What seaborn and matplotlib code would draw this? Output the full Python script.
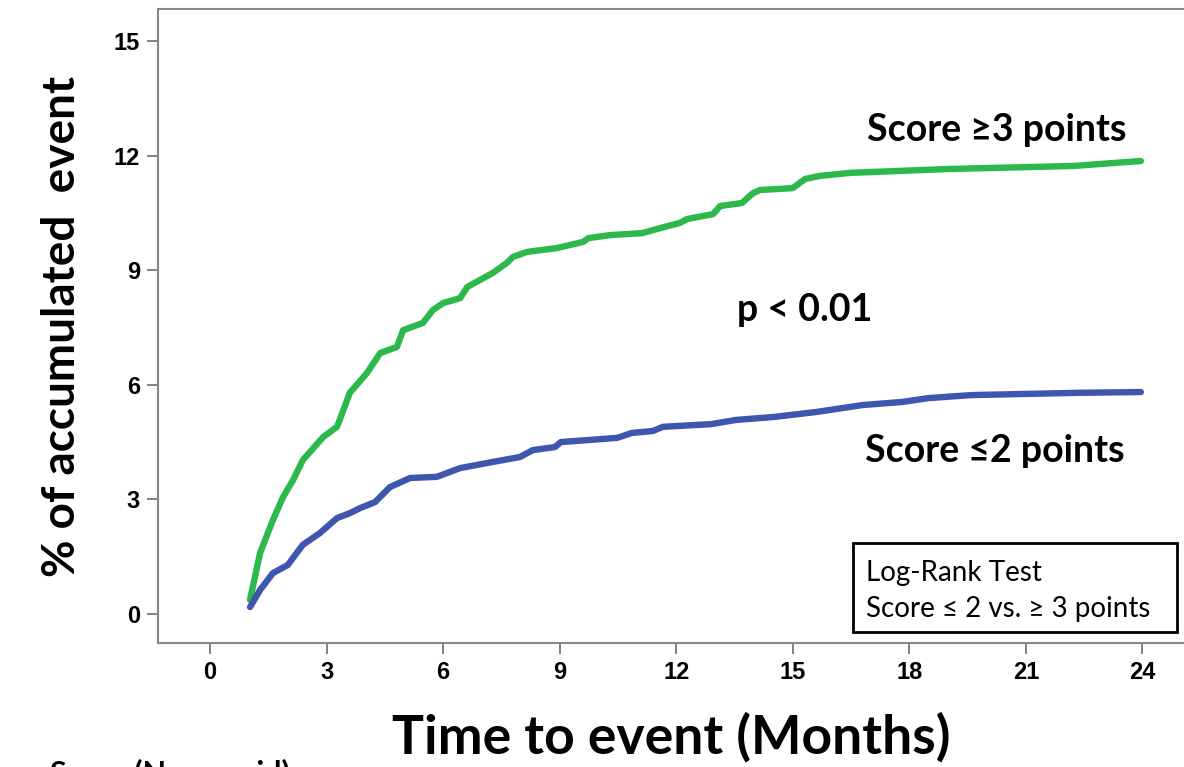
import matplotlib
matplotlib.use("Agg")
import matplotlib.pyplot as plt
import seaborn as sns
import pandas as pd
from matplotlib.patches import Rectangle

# Data (months, % accumulated event)
months_high = [1.03, 1.29, 1.62, 1.88, 2.14, 2.39, 2.91, 3.27, 3.6, 4.04, 4.38, 4.81, 4.97,
               5.48, 5.74, 6.0, 6.44, 6.62, 7.28, 7.64, 7.8, 8.16, 8.93, 9.6, 9.74,
               10.3, 11.12, 11.58, 12.1, 12.28, 12.95, 13.13, 13.69, 13.98, 14.16, 15.0,
               15.32, 15.7, 16.5, 19.0, 22.24, 23.96]
pct_high = [0.37, 1.6, 2.46, 3.06, 3.51, 4.03, 4.63, 4.9, 5.79, 6.31, 6.83, 6.99, 7.43,
            7.62, 7.96, 8.14, 8.27, 8.56, 8.93, 9.19, 9.35, 9.48, 9.58, 9.74, 9.84,
            9.92, 9.97, 10.1, 10.24, 10.34, 10.47, 10.68, 10.76, 11.02, 11.1, 11.15,
            11.39, 11.47, 11.55, 11.65, 11.73, 11.86]
months_low = [1.03, 1.29, 1.62, 2.0, 2.39, 2.83, 3.27, 3.6, 3.86, 4.25, 4.63, 5.15, 5.84,
              6.44, 7.28, 7.98, 8.31, 8.88, 9.03, 10.48, 10.86, 11.4, 11.66, 12.9, 13.54,
              14.54, 15.62, 16.8, 17.81, 18.48, 19.59, 22.34, 23.96]
pct_low = [0.18, 0.63, 1.07, 1.28, 1.81, 2.12, 2.51, 2.64, 2.77, 2.93, 3.32, 3.56, 3.59,
           3.82, 3.98, 4.11, 4.29, 4.37, 4.5, 4.61, 4.74, 4.79, 4.9, 4.97, 5.08,
           5.16, 5.29, 5.47, 5.55, 5.65, 5.73, 5.79, 5.81]
groups = ["Score ≥3 points", "Score ≤2 points"]
x_ticks = [0, 3, 6, 9, 12, 15, 18, 21, 24]
y_ticks = [0, 3, 6, 9, 12, 15]

df = pd.concat([
    pd.DataFrame({"month": months_high, "pct": pct_high, "group": groups[0]}),
    pd.DataFrame({"month": months_low, "pct": pct_low, "group": groups[1]}),
])

sns.set_theme(style="white")
plt.rcParams["font.family"] = ["Liberation Sans", "DejaVu Sans"]
plt.rcParams["text.color"] = "black"
plt.rcParams["axes.labelcolor"] = "black"
plt.rcParams["xtick.color"] = "black"
plt.rcParams["ytick.color"] = "black"

fig = plt.figure(figsize=(11.84, 7.67), dpi=100)
ax = fig.add_axes([0.1334, 0.1617, 0.8666, 0.8266])

palette = {groups[0]: "#2db84b", groups[1]: "#3f56ae"}
sns.lineplot(data=df, x="month", y="pct", hue="group", palette=palette, estimator=None,
             sort=False, linewidth=4.6, legend=False, ax=ax)

ax.set_xlim(-1.34, 25.07)
ax.set_ylim(-0.76, 15.84)
ax.set_xticks(x_ticks)
ax.set_yticks(y_ticks)
ax.set_xticklabels([str(v) for v in x_ticks], fontsize=17, fontweight="bold")
ax.set_yticklabels([str(v) for v in y_ticks], fontsize=17, fontweight="bold")
ax.tick_params(axis="both", direction="out", length=8, width=1.3, color="#777777",
               bottom=True, left=True, pad=5)

for side in ["left", "bottom", "top"]:
    ax.spines[side].set_color("#888888")
    ax.spines[side].set_linewidth(1.5)
ax.spines["right"].set_visible(False)

ax.set_xlabel("Time to event (Months)", fontsize=38.5, fontweight="bold",
              family=["Lato", "DejaVu Sans"], labelpad=20)
ax.set_ylabel("% of accumulated  event", fontsize=33, fontweight="bold",
              family=["Lato", "DejaVu Sans"], labelpad=22)

ax.text(23.6, 12.67, "Score ≥3 points", fontsize=27, fontweight="bold",
        family=["Lato", "DejaVu Sans"], ha="right", va="center")
ax.text(23.55, 4.27, "Score ≤2 points", fontsize=27, fontweight="bold",
        family=["Lato", "DejaVu Sans"], ha="right", va="center")
ax.text(15.3, 7.96, "p < 0.01", fontsize=27, fontweight="bold",
        family=["Lato", "DejaVu Sans"], ha="center", va="center")

# Log-rank box
box = Rectangle((853 / 1184, 1 - 632 / 767), (1177 - 853) / 1184, (632 - 543) / 767,
                transform=fig.transFigure, fill=False, edgecolor="black", linewidth=2)
fig.patches.append(box)
fig.text(866 / 1184, 1 - 573 / 767, "Log-Rank Test", fontsize=20,
         family=["Lato", "DejaVu Sans"], va="center", ha="left")
fig.text(866 / 1184, 1 - 609 / 767, "Score ≤ 2 vs. ≥ 3 points", fontsize=20,
         family=["Lato", "DejaVu Sans"], va="center", ha="left")

# Partially visible caption at the bottom edge
fig.text(50 / 1184, 1 - 759 / 767, "Score (Non-rapid)", fontsize=22, fontweight="bold",
         family=["Lato", "DejaVu Sans"], va="top", ha="left")

fig.savefig("out.png", dpi=100)
